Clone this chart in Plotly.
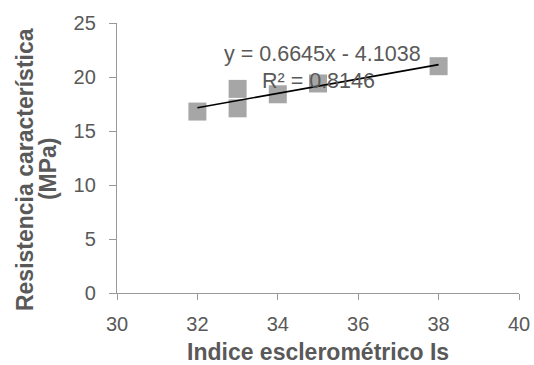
import plotly.graph_objects as go

# Data
indice = [32, 33, 33, 34, 35, 38]
resistencia = [16.8, 18.9, 17.1, 18.4, 19.4, 21.0]

slope = 0.6645
intercept = -4.1038
r2 = 0.8146
trend_x = [min(indice), max(indice)]
trend_y = [slope * v + intercept for v in trend_x]

x_ticks = [30, 32, 34, 36, 38, 40]
y_ticks = [0, 5, 10, 15, 20, 25]

TXT = "#595959"
AX = "#999999"

fig = go.Figure()
fig.add_trace(go.Scatter(
    x=indice, y=resistencia, mode="markers",
    marker=dict(symbol="square", size=18, color="#a6a6a6"),
    showlegend=False, hoverinfo="skip"))
fig.add_trace(go.Scatter(
    x=trend_x, y=trend_y, mode="lines",
    line=dict(color="black", width=1.6),
    showlegend=False, hoverinfo="skip"))

fig.update_layout(
    width=534, height=365,
    margin=dict(l=117, r=15, t=23, b=72, autoexpand=False),
    paper_bgcolor="white", plot_bgcolor="white",
    font=dict(family="Liberation Sans, Arial, sans-serif", color=TXT),
    xaxis=dict(range=[30, 40], tickvals=x_ticks, showgrid=False, zeroline=False,
               showline=True, linecolor=AX, linewidth=1.3, automargin=False,
               ticks="outside", ticklen=6, tickcolor=AX, ticklabelstandoff=7,
               tickfont=dict(size=20, color=TXT)),
    yaxis=dict(range=[0, 25], tickvals=y_ticks, showgrid=False, zeroline=False,
               showline=True, linecolor=AX, linewidth=1.3, automargin=False,
               ticks="outside", ticklen=7, tickcolor=AX, ticklabelstandoff=9,
               tickfont=dict(size=20, color=TXT)),
    annotations=[
        dict(text=f"y = {slope}x - {abs(intercept)}", x=35.1, y=22.15,
             xref="x", yref="y", showarrow=False,
             font=dict(size=21.5, color=TXT)),
        dict(text=f"R² = {r2}", x=35.0, y=19.65,
             xref="x", yref="y", showarrow=False,
             font=dict(size=21.5, color=TXT)),
        dict(text="<b>Indice esclerométrico Is</b>", x=0.5, y=-0.218,
             xref="paper", yref="paper", showarrow=False,
             xanchor="center", yanchor="middle",
             font=dict(size=23, color=TXT)),
        dict(text="<b>Resistencia característica</b>", x=-0.2289, y=0.459,
             xref="paper", yref="paper", showarrow=False, textangle=-90,
             xanchor="center", yanchor="middle",
             font=dict(size=23, color=TXT)),
        dict(text="<b>(MPa)</b>", x=-0.1716, y=0.459,
             xref="paper", yref="paper", showarrow=False, textangle=-90,
             xanchor="center", yanchor="middle",
             font=dict(size=23, color=TXT)),
    ],
)

fig.write_html("out.html", config={"displayModeBar": False},
               post_script="document.body.style.margin='0';document.body.style.overflow='hidden';")
